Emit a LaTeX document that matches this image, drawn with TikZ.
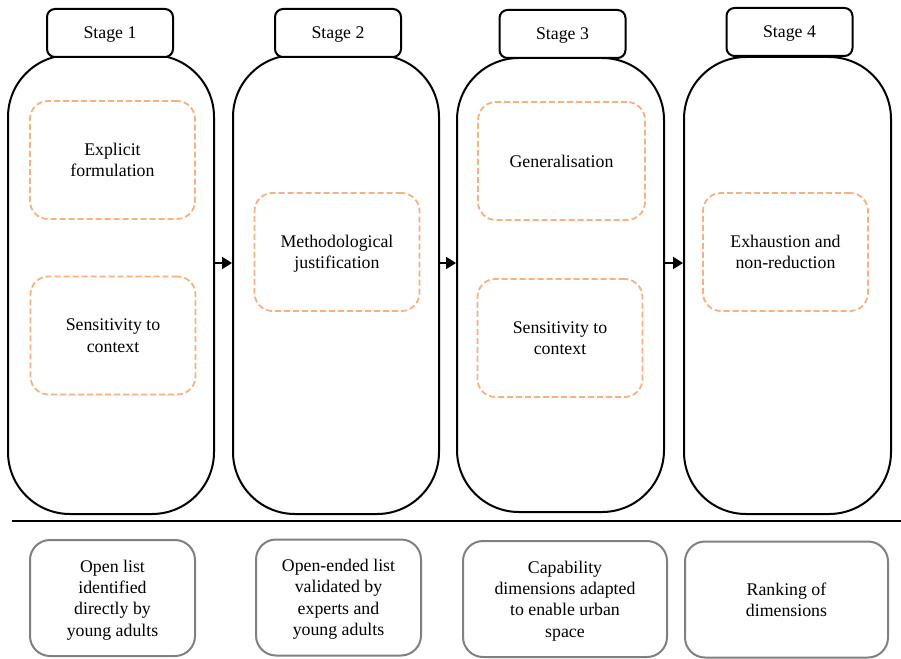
\documentclass[tikz,border=0pt]{standalone}
\usepackage{fontspec}
\setmainfont{Liberation Serif}
\newfontfamily\labelfont{Liberation Serif}
\usetikzlibrary{arrows.meta}
\definecolor{dashorange}{RGB}{244,177,131}
\definecolor{boxgray}{RGB}{128,128,128}

\begin{document}
\begin{tikzpicture}[x=1pt, y=-1pt, >={Triangle[length=10pt,width=12pt]},
	every node/.style={font=\labelfont\fontsize{17.8}{21.4}\selectfont, align=center, inner sep=0pt, text depth=0pt},
	stagecol/.style={draw, line width=2pt, rounded corners=62pt, minimum width=206pt, minimum height=459pt},
	stagebox/.style={draw, fill=white, line width=2pt, rounded corners=8pt, minimum width=126pt, minimum height=48pt},
	criterion/.style={draw=dashorange, line width=1.8pt, dash pattern=on 6pt off 3pt, rounded corners=18pt, minimum width=165pt, minimum height=118pt},
	outcome/.style={draw=boxgray, line width=2pt, rounded corners=20pt, minimum height=116pt}]
	\useasboundingbox (0,0) rectangle (901,658);
	\node[stagecol] (col1) at (111,284.5) {};
	\node[stagecol] (col2) at (336,284.5) {};
	\node[stagecol, minimum width=207pt, minimum height=454pt] (col3) at (560.5,285) {};
	\node[stagecol, minimum width=207pt, minimum height=457pt] (col4) at (787.5,285.5) {};
	\foreach \n/\x/\y in {1/110/33, 2/338/33, 3/562.5/34, 4/789.5/32}
		\node[stagebox] (stage\n) at (\x,\y) {Stage \n};
	\node[criterion] (explicit) at (112.5,160) {Explicit\\formulation};
	\node[criterion] (context1) at (113,335.5) {Sensitivity to\\context};
	\node[criterion] (method) at (337,252) {Methodological\\justification};
	\node[criterion, minimum width=167pt] (general) at (561.5,161) {Generalisation};
	\node[criterion] (context3) at (560,338) {Sensitivity to\\context};
	\node[criterion] (exhaust) at (785.5,252) {Exhaustion and\\non-reduction};
	\coordinate (flow) at (0,263);
	\foreach \a/\b in {col1/col2, col2/col3, col3/col4}
		\draw[->, line width=2pt] (\a.east |- flow) -- (\b.west |- flow);
	\draw[line width=1.5pt] (12,521) -- (901,521);
	\node[outcome, minimum width=165pt] (out1) at (112.5,598) {Open list\\identified\\directly by\\young adults};
	\node[outcome, minimum width=165pt] (out2) at (338.5,597.5) {Open-ended list\\validated by\\experts and\\young adults};
	\node[outcome, minimum width=204pt] (out3) at (565,599) {Capability\\dimensions adapted\\to enable urban\\space};
	\node[outcome, minimum width=203pt] (out4) at (786.5,599.5) {Ranking of\\dimensions};
\end{tikzpicture}
\end{document}
